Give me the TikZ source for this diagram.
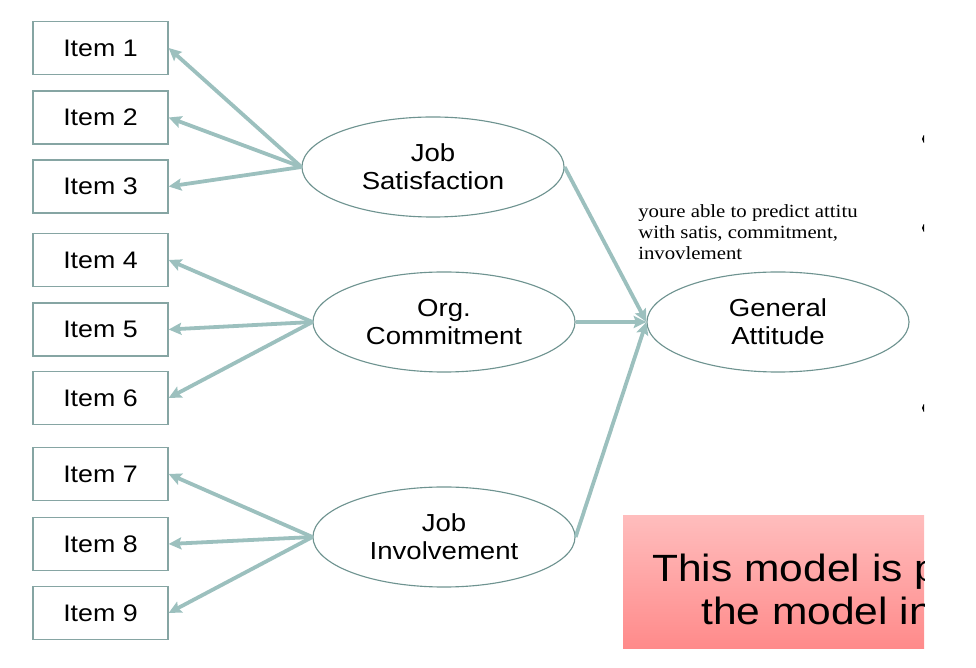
\documentclass[tikz,border=0pt]{standalone}
\usepackage{fontspec}
\setmainfont{Liberation Sans}[FakeStretch=1.12]
\newfontfamily\notefont{Liberation Serif}[FakeStretch=1.12]
\usepackage{xcolor}
\usetikzlibrary{shapes.geometric}
\usetikzlibrary{arrows.meta}
\definecolor{linkgray}{HTML}{9CC0BE}
\definecolor{boxline}{HTML}{86A5A3}
\definecolor{ovalline}{HTML}{6E9390}
\definecolor{pinktop}{HTML}{FFBDBD}
\definecolor{pinkbot}{HTML}{FF8A8A}

\begin{document}
\begin{tikzpicture}[x=0.025cm, y=-0.025cm,
		item/.style={draw=boxline, line width=0.9pt, minimum width=3.375cm, minimum height=1.325cm, inner sep=0pt, font=\fontsize{17}{19}\selectfont},
		factor/.style={draw=ovalline, ellipse, line width=0.8pt, minimum width=6.55cm, minimum height=2.5cm, inner sep=0pt, align=center, font=\fontsize{17.5}{20}\selectfont},
		link/.style={draw=linkgray, line width=2.7pt, -{Stealth[length=9pt, width=8.5pt, inset=1.5pt]}}]
			\useasboundingbox (0,0) rectangle (976,668);
			\node[item] (I1) at (100.5,48){Item 1};
			\node[item] (I2) at (100.5,117.5){Item 2};
			\node[item] (I3) at (100.5,186.5){Item 3};
			\node[item] (I4) at (100.5,260){Item 4};
			\node[item] (I5) at (100.5,329.5){Item 5};
			\node[item] (I6) at (100.5,398){Item 6};
			\node[item] (I7) at (100.5,474){Item 7};
			\node[item] (I8) at (100.5,544){Item 8};
			\node[item] (I9) at (100.5,613){Item 9};
			\node[factor] (JS) at (433,167){Job\\Satisfaction};
			\node[factor] (OC) at (444,322){Org.\\Commitment};
			\node[factor] (JI) at (444,537){Job\\Involvement};
			\node[factor] (GA) at (778,322){General\\Attitude};
			\draw[link] (JS.west) -- (I1.east);
			\draw[link] (JS.west) -- (I2.east);
			\draw[link] (JS.west) -- (I3.east);
			\draw[link] (OC.west) -- (I4.east);
			\draw[link] (OC.west) -- (I5.east);
			\draw[link] (OC.west) -- (I6.east);
			\draw[link] (JI.west) -- (I7.east);
			\draw[link] (JI.west) -- (I8.east);
			\draw[link] (JI.west) -- (I9.east);
			\draw[link] (JS.east) -- (GA.west);
			\draw[link] (OC.east) -- (GA.west);
			\draw[link] (JI.east) -- (GA.west);
			\node[anchor=north west, inner sep=0pt, align=left, font=\notefont\fontsize{13.2}{14.9}\selectfont] (note) at (638,204){youre able to predict attitu\\with satis, commitment,\\invovlement};
			% slide cut off on the right
			\begin{scope}
				\clip (0,0) rectangle (924,668);
				\shade[top color=pinktop, bottom color=pinkbot] (623,516) rectangle (924,649);
				\node[anchor=base west, inner sep=0pt, font=\fontsize{27}{30}\selectfont] (msgA) at (652,582){This model is p};
				\node[anchor=base west, inner sep=0pt, font=\fontsize{27}{30}\selectfont] (msgB) at (701,625){the model in};
				\fill (927,139) circle (5);
				\fill (927,228) circle (5);
				\fill (927,408) circle (5);
			\end{scope}
		\end{tikzpicture}
\end{document}
